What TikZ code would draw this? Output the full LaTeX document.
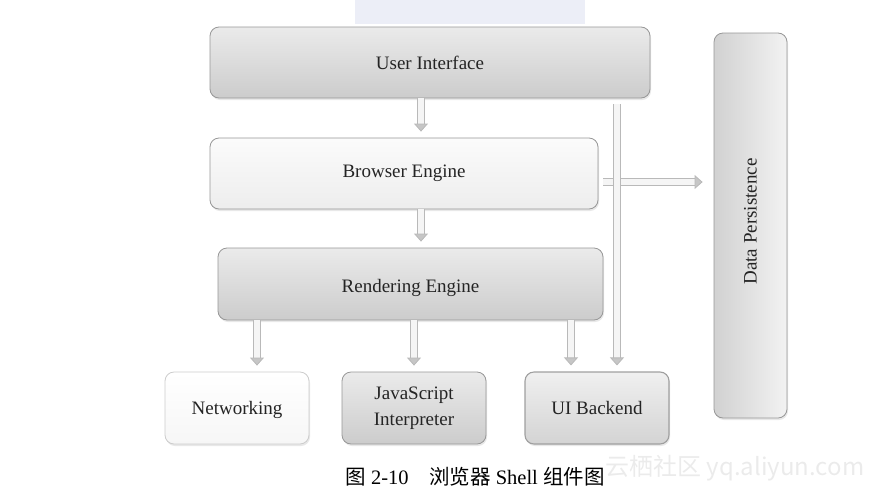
\documentclass[tikz,border=0pt]{standalone}
\usepackage{fontspec}
\setmainfont{Liberation Serif}
\newfontfamily\cjk{Noto Sans CJK SC}
\usepackage{graphicx}
\usepackage{xcolor}
\usepackage{tikz}
\usetikzlibrary{arrows.meta,shadows}
\definecolor{ink}{HTML}{242424}
\definecolor{rim}{HTML}{979797}
\definecolor{haze}{HTML}{ECEEF7}

\begin{document}
\begin{tikzpicture}[
  x=1pt, y=-1pt,
  font=\fontsize{19}{22}\selectfont,
  module/.style={draw=rim, line width=0.8pt, rounded corners=9pt, align=center, text=ink, inner sep=0pt,
    minimum height=71pt, top color=gray!16, bottom color=gray!40,
    drop shadow={shadow xshift=1pt, shadow yshift=-2pt, opacity=0.18}},
  pale/.style={module, top color=gray!3, bottom color=gray!14},
  faint/.style={module, draw=gray!40, top color=white, bottom color=gray!7},
  dark/.style={module, draw=gray!75, line width=1.1pt, top color=gray!12, bottom color=gray!34},
  flow/.style={draw=gray!55, line width=0.8pt, double=gray!8, double distance=5.5pt,
    -{Triangle[length=8pt, width=14pt, fill=gray!45]}, shorten >=6pt}
]
  \useasboundingbox (0,0) rectangle (889,496);
  \fill[haze] (355,0) rectangle (585,24);

  \node[module, minimum width=440pt] (ui) at (430,62.5) {User Interface};
  \node[pale, minimum width=388pt] (browser) at (404,173.5) {Browser Engine};
  \node[module, minimum width=385pt, minimum height=72pt] (render) at (410.5,284)
    {\raisebox{-4pt}[\height][\depth]{Rendering Engine}};
  \node[faint, minimum width=144pt, minimum height=72pt] (net) at (237,408)
    {\raisebox{-2pt}[\height][\depth]{Networking}};
  \node[module, minimum width=144pt, minimum height=72pt] (js) at (414,408) {JavaScript\\[4pt]Interpreter};
  \node[dark, minimum width=144pt, minimum height=72pt] (uib) at (597,408) {UI Backend};
  \node[module, left color=gray!36, right color=gray!10, minimum width=73pt, minimum height=385pt]
    (data) at (750.5,225.5) {\rotatebox{90}{\hspace*{8pt}Data Persistence}};

  \draw[flow] ([xshift=-9pt]ui.south) -- ([xshift=-9pt]ui.south |- browser.north);
  \draw[flow] ([xshift=17pt]browser.south) -- ([xshift=17pt]browser.south |- render.north);
  \draw[flow] ([xshift=20pt]net.north |- render.south) -- ([xshift=20pt]net.north);
  \draw[flow] (js.north |- render.south) -- (js.north);
  \draw[flow] ([xshift=-26pt]uib.north |- render.south) -- ([xshift=-26pt]uib.north);
  \draw[flow, shorten <=5pt, shorten >=11pt] ([yshift=-8.5pt]browser.east) -- ([yshift=-8.5pt]browser.east -| data.west);
  \draw[flow, shorten <=6pt] ([xshift=20pt]uib.north |- ui.south) -- ([xshift=20pt]uib.north);

  \node[font=\fontsize{20.5}{24}\selectfont] (caption) at (475,477)
    {{\cjk 图} 2-10\hspace{1em}{\cjk 浏览器} Shell {\cjk 组件图}};
  \node[text=gray!16, font=\cjk\fontsize{24}{24}\selectfont] (mark) at (735,468) {云栖社区 yq.aliyun.com};
\end{tikzpicture}
\end{document}
